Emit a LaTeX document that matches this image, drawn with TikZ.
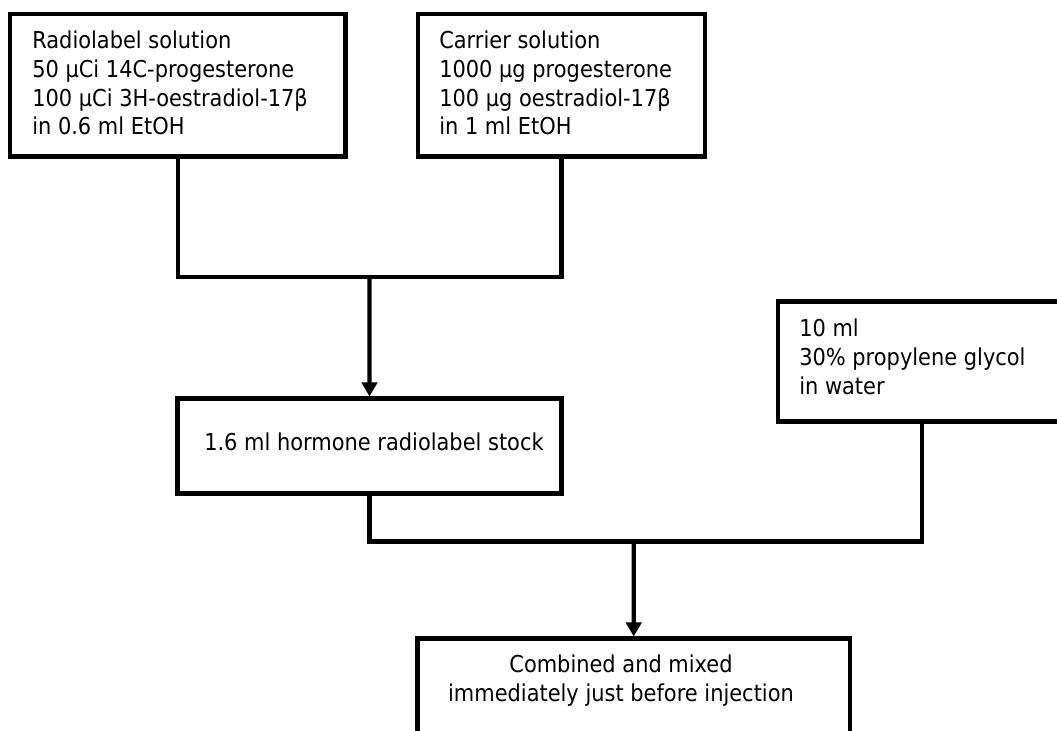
\documentclass[tikz,border=0pt]{standalone}
\usepackage{fontspec}
\newfontfamily\boxfont{DejaVu Sans}[FakeStretch=0.9]
\usetikzlibrary{arrows.meta}

\begin{document}
\begin{tikzpicture}[x=0.75pt, y=-0.75pt,
  every node/.style={font=\boxfont\fontsize{17.45pt}{21.5pt}\selectfont},
  stage/.style={draw, line width=3.1pt, inner sep=0pt, anchor=north west},
  txt/.style={inner sep=0pt, align=left, anchor=base west},
  link/.style={line width=3.1pt},
  feed/.style={line width=3.1pt, -{Triangle[width=11.5pt, length=10.5pt]}}
]
  % page and background
  \fill[white] (0,0) rectangle (1057,731);
  \useasboundingbox (0,0) rectangle (1057,731);
  \begin{scope}
  \clip (0,0) rectangle (1057,731);

  % boxes (placed by their outer corner)
  \node[stage, minimum width={335.5*0.75pt}, minimum height={142.5*0.75pt}] (radio) at (7.93,11.93) {};
  \node[stage, minimum width={287*0.75pt}, minimum height={142.5*0.75pt}] (carrier) at (415.93,11.93) {};
  \node[stage, minimum width={384*0.75pt}, minimum height={95*0.75pt}] (stock) at (175.43,396.43) {};
  \node[stage, minimum width={288*0.75pt}, minimum height={120*0.75pt}] (glycol) at (775.93,299.43) {};
  \node[stage, minimum width={432.5*0.75pt}, minimum height={130*0.75pt}] (mix) at (415.43,636.43) {};

  % box texts (anchored at the baseline of their last line)
  \node[txt] (radiotext) at (32,135) {Radiolabel solution\\50 µCi 14C-progesterone\\100 µCi 3H-oestradiol-17β\\in 0.6 ml EtOH};
  \node[txt] (carriertext) at (439,135) {Carrier solution\\1000 µg progesterone\\100 µg oestradiol-17β\\in 1 ml EtOH};
  \node[txt] (glycoltext) at (799,394) {10 ml\\30\% propylene glycol\\in water};
  \node[txt] (stocktext) at (204,450) {1.6 ml hormone radiolabel stock};
  \node[inner sep=0pt, align=center, anchor=base] (mixtext) at (621,701.5) {Combined and mixed\\immediately just before injection};

  % junction points
  \coordinate (j1) at (369.5,277);
  \coordinate (j2) at (633.75,541.5);

  % connectors
  \draw[link] (radio.south) -- (radio.south |- j1) -- (carrier.south |- j1) -- (carrier.south);
  \draw[feed] (j1) -- (stock.north);
  \draw[link] (stock.south) -- (stock.south |- j2) -- (glycol.south |- j2) -- (glycol.south);
  \draw[feed] (j2) -- (mix.north);
  \end{scope}
\end{tikzpicture}
\end{document}
